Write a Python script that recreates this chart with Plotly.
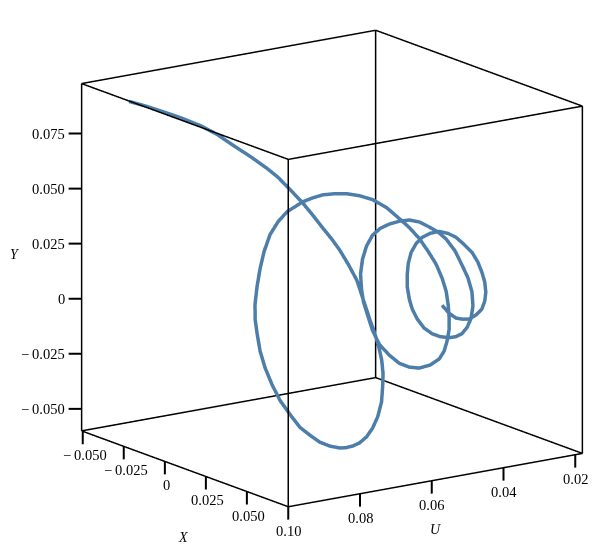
import plotly.graph_objects as go

U_drop = [0,.00115,.0023,.00345,.0046,.00575,.0069,.00805,.0092,.01035,
.0115,.0138,.01495,.0161,.01725,.0184,.01955,.0207,.02185,.0230,
.02415,.0253,.02645,.0276,.0288,.0300,.03057,.03114,.03171,.03228,
.03285,.03342,.03399,.03456,.03513,.0357,.03627,.03684,.03741,.03798,
.03855,.03912,.03969,.04026,.04083,.0414,.04197,.04254,.04311,.04368,
.04425,.04482,.04539,.04596,.04653,.0471,.04767,.04824,.04881,.04938,
.04995,.05052,.05109,.05166,.05223,.0528,.05337,.05394,.05452,.0551,
.05553,.05595,.05638,.0568,.05723,.05765,.05808,.0585,.05893,.05935,
.05978,.0602,.06063,.06105,.06148,.0619,.06233,.06275,.06318,.0636,
.06403,.06445,.06488,.0653,.06573,.06615,.06658,.067,.06743,.06785,
.06828,.0687,.06913,.06955,.06998,.0704,.07083,.07125,.07168,.0721,
.0724,.0727,.073,.0733,.0736,.0739,.0742,.0745,.0748,.0751,
.0754,.0757,.076,.0763,.0766,.0769,.0772,.0775,.0778,.0781,
.0784,.0787,.079,.0793,.0796,.0799]
U_vals = [round(0.10 - d, 5) for d in U_drop]
X_vals = [-.0218,-.0147,-.0075,.0021,.0118,.0195,.0267,.0345,.0423,.0464,
.0500,.0535,.0570,.0612,.0641,.0664,.0693,.0717,.0722,.0727,
.0726,.0725,.0724,.0718,.0700,.0671,.0652,.0616,.0573,.0524,
.0469,.0415,.0359,.0310,.0238,.0164,.0092,.0018,-.0055,-.0128,
-.0189,-.0244,-.0287,-.0317,-.0342,-.0355,-.0355,-.0349,-.0337,-.0313,
-.0277,-.0235,-.0199,-.0163,-.0115,-.0067,-.0007,.0054,.0120,.0186,
.0259,.0325,.0373,.0421,.0463,.0499,.0523,.0535,.0535,.0528,
.0518,.0497,.0470,.0430,.0366,.0290,.0220,.0150,.0081,.0010,
-.0041,-.0081,-.0115,-.0136,-.0151,-.0148,-.0133,-.0106,-.0067,-.0022,
.0030,.0081,.0132,.0184,.0228,.0268,.0313,.0346,.0373,.0388,
.0385,.0364,.0330,.0290,.0245,.0193,.0129,.0072,.0013,-.0038,
-.0075,-.0099,-.0118,-.0125,-.0125,-.0114,-.0090,-.0060,-.0018,.0030,
.0078,.0119,.0161,.0204,.0233,.0251,.0262,.0262,.0249,.0225,
.0182,.0133,.0084,.0041,-.0008,-.0057]
Y_vals = [.0975,.0971,.0964,.0956,.0943,.0920,.0887,.0855,.0818,.0786,
.0746,.0682,.0634,.0578,.0533,.0486,.0423,.0358,.0288,.0218,
.0160,.0107,.0044,-.0025,-.0096,-.0167,-.0242,-.0321,-.0385,-.0440,
-.0484,-.0515,-.0540,-.0556,-.0569,-.0573,-.0563,-.0549,-.0512,-.0470,
-.0417,-.0357,-.0294,-.0227,-.0168,-.0106,-.0026,.0055,.0134,.0216,
.0282,.0337,.0368,.0399,.0428,.0453,.0473,.0488,.0495,.0494,
.0476,.0442,.0413,.0375,.0326,.0276,.0217,.0160,.0095,.0033,
-.0025,-.0082,-.0136,-.0185,-.0231,-.0267,-.0283,-.0286,-.0270,-.0241,
-.0193,-.0133,-.0085,-.0033,.0029,.0096,.0158,.0213,.0254,.0284,
.0310,.0328,.0332,.0322,.0310,.0288,.0245,.0189,.0137,.0077,
.0011,-.0055,-.0106,-.0146,-.0173,-.0193,-.0207,-.0211,-.0202,-.0176,
-.0142,-.0105,-.0056,-.0005,.0048,.0100,.0146,.0181,.0210,.0231,
.0234,.0227,.0206,.0180,.0143,.0101,.0058,.0012,-.0033,-.0077,
-.0117,-.0150,-.0164,-.0172,-.0164,-.0142]

U_ticks = [0.10, 0.08, 0.06, 0.04, 0.02]
U_labels = ["0.10", "0.08", "0.06", "0.04", "0.02"]
X_ticks = [-0.05, -0.025, 0, 0.025, 0.05]
X_labels = ["\u2212\u20090.050", "\u2212\u20090.025", "0", "0.025", "0.050"]
Y_ticks = [-0.05, -0.025, 0, 0.025, 0.05, 0.075]
Y_labels = ["\u2212\u20090.050", "\u2212\u20090.025", "0", "0.025", "0.050", "0.075"]

U0, U1 = 0.018, 0.10
X0, X1 = -0.0507, 0.0752
Y0, Y1 = -0.060, 0.0977
PAD = 0.1
TICK_Y = 0.00587
TICK_U, TICK_X = 0.00238, -0.00266

def pad(a, b):
    d = (b - a) * PAD
    return [a - d, b + d]

ex, ey, ez = [], [], []
def edge(a, b):
    ex.extend([a[0], b[0], None]); ey.extend([a[1], b[1], None]); ez.extend([a[2], b[2], None])
for u in (U0, U1):
    for x in (X0, X1):
        edge((u, x, Y0), (u, x, Y1))
for u in (U0, U1):
    for y in (Y0, Y1):
        edge((u, X0, y), (u, X1, y))
for x in (X0, X1):
    for y in (Y0, Y1):
        edge((U0, x, y), (U1, x, y))

tx, ty, tz = [], [], []
def tick(a, b):
    tx.extend([a[0], b[0], None]); ty.extend([a[1], b[1], None]); tz.extend([a[2], b[2], None])
for v in U_ticks:
    tick((v, X1, Y0), (v, X1, Y0 - TICK_Y))
for v in X_ticks:
    tick((U1, v, Y0), (U1, v, Y0 - TICK_Y))
for v in Y_ticks:
    tick((U1, X0, v), (U1 + TICK_U, X0 + TICK_X, v))

font = dict(family="Liberation Serif", size=14.5, color="black")
anns = []
for v, t in zip(U_ticks, U_labels):
    anns.append(dict(x=v, y=X1, z=Y0, text=t, showarrow=False, yshift=-24, font=font))
for v, t in zip(X_ticks, X_labels):
    anns.append(dict(x=U1, y=v, z=Y0, text=t, showarrow=False, yshift=-24, xshift=2, font=font))
for v, t in zip(Y_ticks, Y_labels):
    anns.append(dict(x=U1, y=X0, z=v, text=t, showarrow=False, xanchor="right", xshift=-15, font=font))

hidden = dict(visible=False, autorange=False)

fig = go.Figure()
fig.add_trace(go.Scatter3d(x=ex, y=ey, z=ez, mode="lines", line=dict(color="black", width=3),
                           hoverinfo="skip", connectgaps=False))
fig.add_trace(go.Scatter3d(x=tx, y=ty, z=tz, mode="lines", line=dict(color="black", width=4),
                           hoverinfo="skip", connectgaps=False))
fig.add_trace(go.Scatter3d(x=U_vals, y=X_vals, z=Y_vals, mode="lines",
                           line=dict(color="#4c7ea9", width=7), hoverinfo="skip"))
k = 3.0
S = 1.656
title_font = dict(family="Liberation Serif", size=14, color="black")
def title(text, px, py, anchor="center"):
    return dict(text="<i>%s</i>" % text, x=px/605, y=1-py/552, xref="paper", yref="paper",
                xanchor=anchor, yanchor="middle", showarrow=False, font=title_font)
fig.update_layout(
    width=605, height=552, margin=dict(l=0, r=0, t=0, b=0),
    paper_bgcolor="white", showlegend=False,
    annotations=[title("X", 175, 529), title("U", 427, 521), title("Y", 0, 246, "left")],
    scene=dict(
        domain=dict(x=[51/605, 597/605], y=[31/552, 1]),
        aspectmode="manual", aspectratio=dict(x=S, y=S, z=S),
        camera=dict(projection=dict(type="orthographic"),
                    up=dict(x=0, y=0, z=1),
                    center=dict(x=0, y=0, z=0),
                    eye=dict(x=0.556*k, y=0.791*k, z=0.258*k)),
        xaxis=dict(hidden, range=pad(U0, U1)),
        yaxis=dict(hidden, range=pad(X0, X1)),
        zaxis=dict(hidden, range=pad(Y0, Y1)),
        annotations=anns,
    ),
)
fig.write_html("out.html")
